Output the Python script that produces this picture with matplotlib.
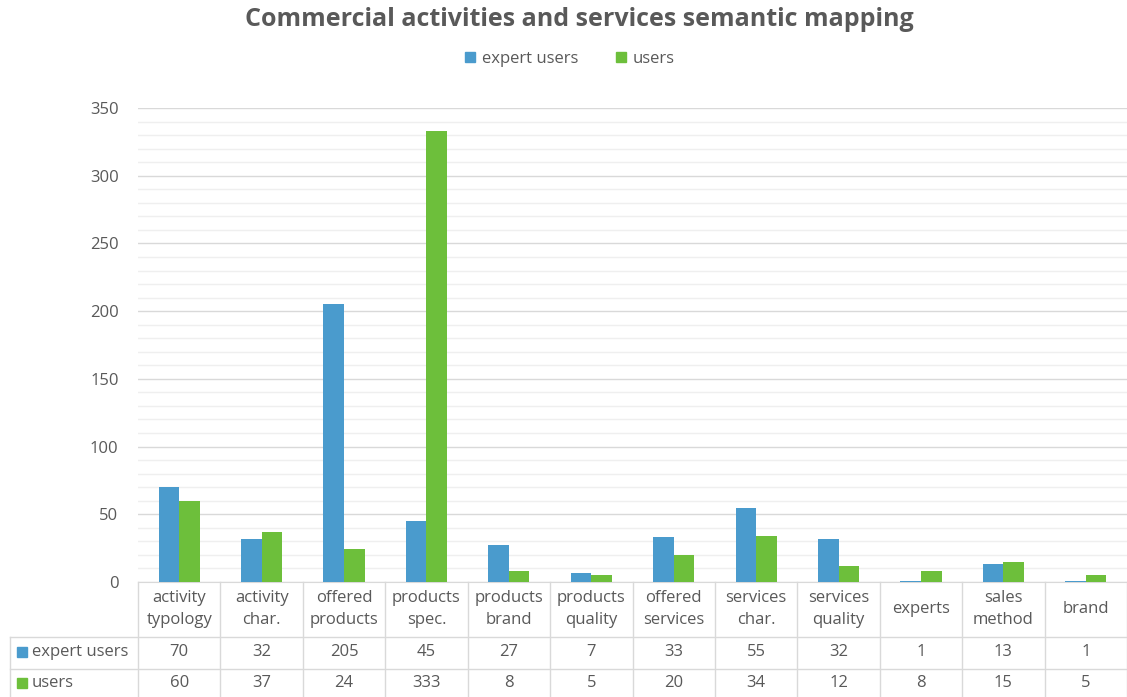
import matplotlib.pyplot as plt
from matplotlib.patches import Rectangle, Patch
import numpy as np

categories = ["activity\ntypology", "activity\nchar.", "offered\nproducts", "products\nspec.",
              "products\nbrand", "products\nquality", "offered\nservices", "services\nchar.",
              "services\nquality", "experts", "sales\nmethod", "brand"]
expert_users = [70, 32, 205, 45, 27, 7, 33, 55, 32, 1, 13, 1]
users = [60, 37, 24, 333, 8, 5, 20, 34, 12, 8, 15, 5]
series_names = ["expert users", "users"]

blue = "#4a9bcd"
green = "#6dbf3b"
grey_text = "#595959"
grid_major = "#d9d9d9"
grid_minor = "#efefef"

plt.rcParams['font.family'] = ['Open Sans', 'DejaVu Sans']

W, H = 1127, 697
fig = plt.figure(figsize=(W / 100, H / 100), dpi=100)

# plot area in pixels
left, right, top, base = 138, 1127, 108, 582
ax = fig.add_axes([left / W, (H - base) / H, (right - left) / W, (base - top) / H])

n = len(categories)
x = np.arange(n)
bw = 0.25
ax.bar(x - bw / 2, expert_users, bw, color=blue, zorder=3)
ax.bar(x + bw / 2, users, bw, color=green, zorder=3)
ax.set_xlim(-0.5, n - 0.5)
ax.set_ylim(0, 350)
ax.set_yticks(range(0, 351, 50))
ax.set_yticks(range(0, 351, 10), minor=True)
ax.grid(axis='y', which='major', color=grid_major, lw=1)
ax.grid(axis='y', which='minor', color=grid_minor, lw=1)
ax.set_axisbelow(True)
ax.set_xticks([])
ax.tick_params(axis='y', which='both', length=0, pad=14, labelsize=12, labelcolor=grey_text)
for s in ['top', 'right', 'left']:
    ax.spines[s].set_visible(False)
ax.spines['bottom'].set_color(grid_major)

# data table below the plot
cw = (right - left) / n
tab = fig.add_axes([0, 0, 1, (H - base) / H])
tab.set_xlim(-0.5 - left / cw, n - 0.5)
tab.set_ylim(H, base)
tab.axis('off')


def px(xp):
    return -0.5 + (xp - left) / cw


line_kw = dict(color=grid_major, lw=1, clip_on=False)
row1, row2 = 637, 669
for i in range(n + 1):
    tab.plot([i - 0.5, i - 0.5], [base, H], **line_kw)
tab.plot([px(10), px(10)], [row1, H], **line_kw)
tab.plot([px(10), n - 0.5], [row1, row1], **line_kw)
tab.plot([px(10), n - 0.5], [row2, row2], **line_kw)

for i, c in enumerate(categories):
    tab.text(i, 609, c, ha='center', va='center', fontsize=12, color=grey_text, linespacing=1.5)
    tab.text(i, 652, str(expert_users[i]), ha='center', va='center', fontsize=12, color=grey_text)
    tab.text(i, 683, str(users[i]), ha='center', va='center', fontsize=12, color=grey_text)

for yc, name, col in [(652, series_names[0], blue), (683, series_names[1], green)]:
    tab.add_patch(Rectangle((px(17), yc - 5), px(27) - px(17), 10, color=col, clip_on=False))
    tab.text(px(32), yc, name, ha='left', va='center', fontsize=12, color=grey_text)

fig.text(579 / W, 1 - 20 / H, "Commercial activities and services semantic mapping",
         ha='center', va='center', fontsize=18, weight='bold', color=grey_text)
handles = [Patch(color=blue, label=series_names[0]), Patch(color=green, label=series_names[1])]
fig.legend(handles=handles, loc='center', bbox_to_anchor=(570 / W, 1 - 59 / H), ncol=2,
           frameon=False, fontsize=12, labelcolor=grey_text, handlelength=0.6, handleheight=0.6,
           handletextpad=0.4, columnspacing=2.3)

fig.savefig("out.png", dpi=100)
